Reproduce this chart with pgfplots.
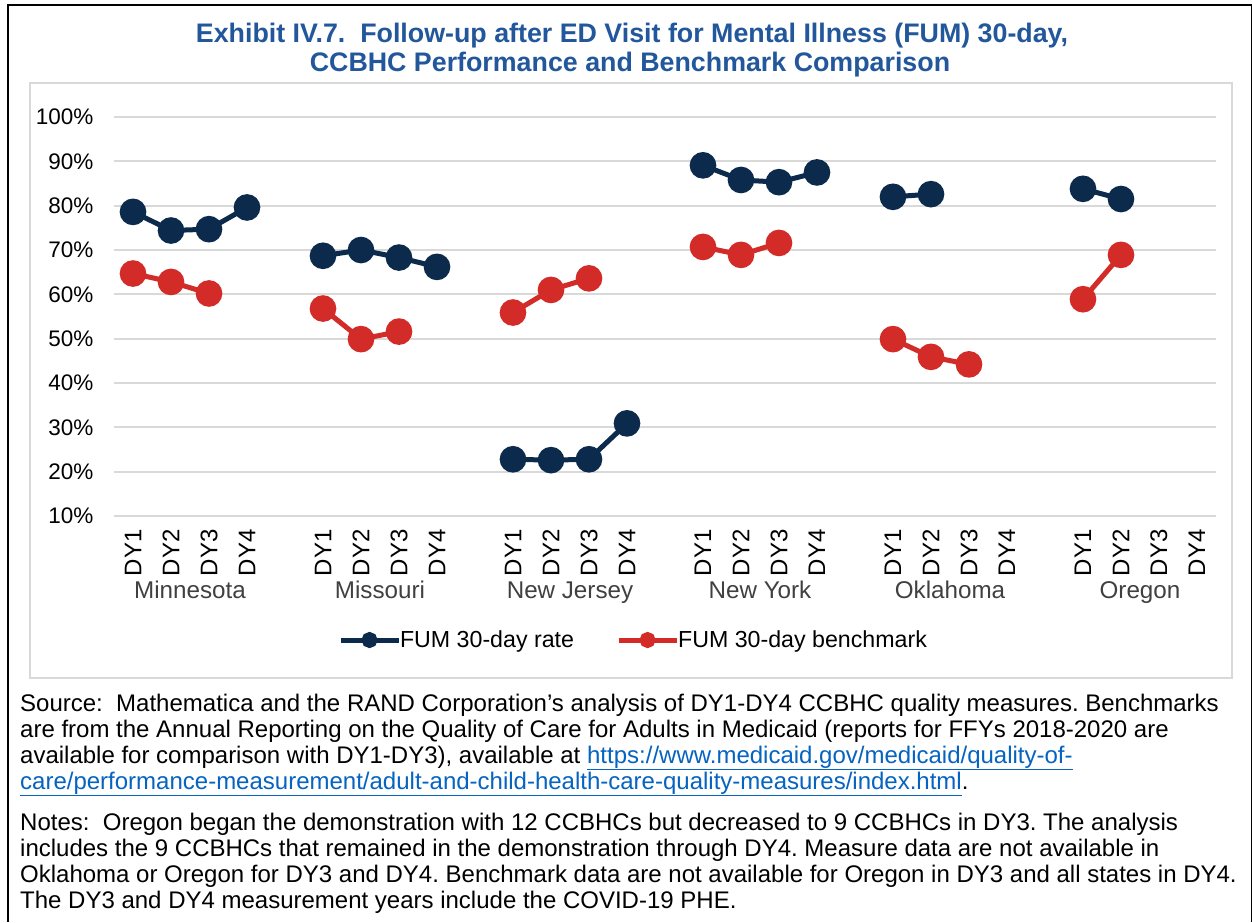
\documentclass[border=0pt]{standalone}
\usepackage{fontspec}
\setmainfont{Liberation Sans}
\usepackage{pgfplots}
\pgfplotsset{compat=1.18}
\definecolor{navy}{RGB}{12,42,75}
\definecolor{fumred}{RGB}{210,43,40}
\definecolor{titleblue}{RGB}{34,87,155}
\definecolor{gridgray}{RGB}{217,217,217}
\definecolor{grouptext}{RGB}{64,64,64}
\definecolor{linkblue}{RGB}{5,99,193}
\frenchspacing

\begin{document}
\begin{tikzpicture}[
  group label/.style={anchor=base, text=grouptext, font=\fontsize{24.2}{28}\selectfont, yshift=-82.5pt},
]
% page and frames
\fill[white] (0pt,0pt) rectangle (1252pt,-922pt);
\useasboundingbox (0pt,0pt) rectangle (1252pt,-922pt);
\draw[black, line width=2pt] (7.5pt,-922pt) -- (7.5pt,-5pt) -- (1252pt,-5pt);
\draw[black, line width=1pt] (1251.5pt,-5pt) -- (1251.5pt,-922pt);
\draw[gridgray, line width=2.5pt] (30pt,-83pt) rectangle (1232pt,-678pt);

% title
\node[anchor=base, text=titleblue, font=\fontsize{26.8}{30}\selectfont\bfseries]
  at (632pt,-42pt) {Exhibit IV.7.\ \ Follow-up after ED Visit for Mental Illness (FUM) 30-day,};
\node[anchor=base, text=titleblue, font=\fontsize{26.8}{30}\selectfont\bfseries]
  at (630pt,-71pt) {CCBHC Performance and Benchmark Comparison};

\begin{axis}[
  at={(114pt,-516pt)}, anchor=south west,
  scale only axis, width=1102pt, height=399pt,
  xmin=-0.5, xmax=28.5, ymin=10, ymax=100,
  axis line style={draw=none},
  major tick style={draw=none},
  /pgf/number format/assume math mode=true,
  ytick={10,20,...,100},
  yticklabel={\pgfmathprintnumber{\tick}\%},
  yticklabel style={font=\fontsize{22.5}{26}\selectfont, text=black, xshift=-17pt},
  ymajorgrids,
  grid style={color=gridgray, line width=2pt},
  xtick={0,1,2,3,5,6,7,8,10,11,12,13,15,16,17,18,20,21,22,23,25,26,27,28},
  xticklabels={DY1,DY2,DY3,DY4,DY1,DY2,DY3,DY4,DY1,DY2,DY3,DY4,
               DY1,DY2,DY3,DY4,DY1,DY2,DY3,DY4,DY1,DY2,DY3,DY4},
  xticklabel style={yshift=-10pt, rotate=90, anchor=east, font=\fontsize{24}{26}\selectfont, text=black},
  unbounded coords=jump,
  clip=false,
  legend columns=2,
  legend style={at={(axis description cs:0.4714,-0.3108)}, anchor=center,
    draw=none, fill=none, font=\fontsize{23.2}{26}\selectfont,
    /tikz/every even column/.append style={column sep=40pt},
    /tikz/every odd column/.append style={column sep=-3pt}},
  legend image code/.code={
    \draw[#1, mark=none] (0pt,0pt) -- (58pt,0pt);
    \fill[#1] (29pt,0pt) circle (5.5pt);
  },
]
\addplot[color=navy, line width=5pt, mark=*, mark size=10.8pt] coordinates {
  (0,78.6) (1,74.4) (2,74.7) (3,79.6) (4,nan)
  (5,68.7) (6,70.0) (7,68.3) (8,66.2) (9,nan)
  (10,22.8) (11,22.6) (12,22.8) (13,30.9) (14,nan)
  (15,89.1) (16,85.8) (17,85.3) (18,87.5) (19,nan)
  (20,82.0) (21,82.6) (22,nan)
  (25,83.8) (26,81.5)
};
\addlegendentry{FUM 30-day rate}
\addplot[color=fumred, line width=5pt, mark=*, mark size=10.8pt] coordinates {
  (0,64.7) (1,62.8) (2,60.2) (3,nan)
  (5,56.8) (6,49.9) (7,51.6) (8,nan)
  (10,55.9) (11,61.0) (12,63.6) (13,nan)
  (15,70.7) (16,68.9) (17,71.6) (18,nan)
  (20,49.9) (21,45.9) (22,44.2) (23,nan)
  (25,58.9) (26,68.9)
};
\addlegendentry{FUM 30-day benchmark}

% state group labels
\node[group label] at (axis cs:1.5,10) {Minnesota};
\node[group label] at (axis cs:6.5,10) {Missouri};
\node[group label] at (axis cs:11.5,10) {New Jersey};
\node[group label] at (axis cs:16.5,10) {New York};
\node[group label] at (axis cs:21.5,10) {Oklahoma};
\node[group label] at (axis cs:26.5,10) {Oregon};
\end{axis}

% source and notes
\begin{scope}[every node/.style={anchor=base west, inner sep=0pt, font=\fontsize{24}{26}\selectfont}]
\node at (20pt,-711pt) {Source:\ \ Mathematica and the RAND Corporation’s analysis of DY1-DY4 CCBHC quality measures. Benchmarks};
\node at (20pt,-737pt) {are from the Annual Reporting on the Quality of Care for Adults in Medicaid (reports for FFYs 2018-2020 are};
\node at (20pt,-763pt) {available for comparison with DY1-DY3), available at \textcolor{linkblue}{\underline{https://www.medicaid.gov/medicaid/quality-of-}}};
\node at (20pt,-789pt) {\textcolor{linkblue}{\underline{care/performance-measurement/adult-and-child-health-care-quality-measures/index.html}}.};
\node at (20pt,-830pt) {Notes:\ \ Oregon began the demonstration with 12 CCBHCs but decreased to 9 CCBHCs in DY3. The analysis};
\node at (20pt,-856pt) {includes the 9 CCBHCs that remained in the demonstration through DY4. Measure data are not available in};
\node at (20pt,-882pt) {Oklahoma or Oregon for DY3 and DY4. Benchmark data are not available for Oregon in DY3 and all states in DY4.};
\node at (20pt,-908pt) {The DY3 and DY4 measurement years include the COVID-19 PHE.};
\end{scope}
\end{tikzpicture}
\end{document}
